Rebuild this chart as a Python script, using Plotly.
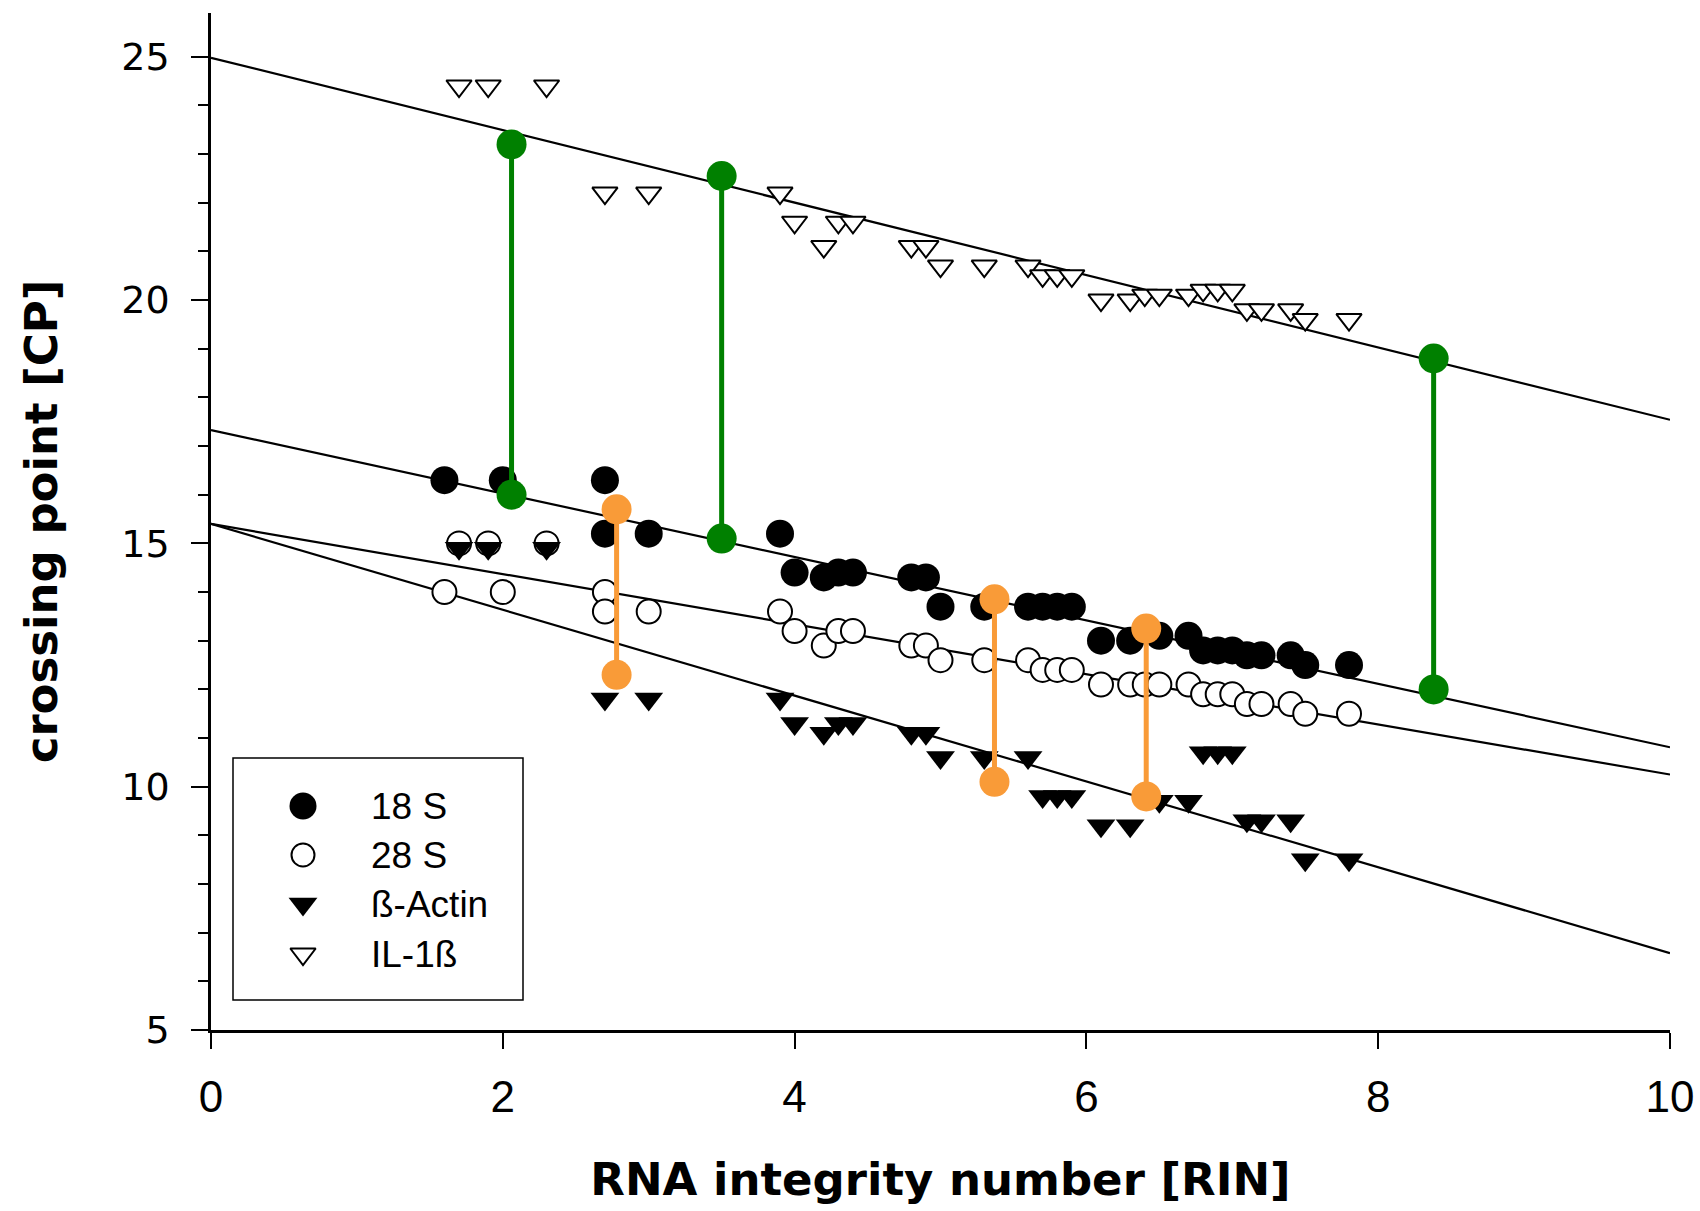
import numpy as np
import plotly.graph_objects as go

# ---------------- data ----------------
series_names = ["18 S", "28 S", "ß-Actin", "IL-1ß"]

rin_18s = [1.6, 2.0, 2.7, 2.7, 3.0, 3.9, 4.0, 4.2, 4.3, 4.4, 4.8, 4.9, 5.0, 5.3, 5.6,
           5.7, 5.8, 5.9, 6.1, 6.3, 6.5, 6.7, 6.8, 6.9, 7.0, 7.1, 7.2, 7.4, 7.5, 7.8]
cp_18s = [16.3, 16.3, 16.3, 15.2, 15.2, 15.2, 14.4, 14.3, 14.4, 14.4, 14.3, 14.3, 13.7, 13.7, 13.7,
          13.7, 13.7, 13.7, 13.0, 13.0, 13.1, 13.1, 12.8, 12.8, 12.8, 12.7, 12.7, 12.7, 12.5, 12.5]

rin_28s = [1.6, 1.7, 1.9, 2.0, 2.3, 2.7, 2.7, 3.0, 3.9, 4.0, 4.2, 4.3, 4.4, 4.8, 4.9, 5.0, 5.3,
           5.6, 5.7, 5.8, 5.9, 6.1, 6.3, 6.4, 6.5, 6.7, 6.8, 6.9, 7.0, 7.1, 7.2, 7.4, 7.5, 7.8]
cp_28s = [14.0, 15.0, 15.0, 14.0, 15.0, 14.0, 13.6, 13.6, 13.6, 13.2, 12.9, 13.2, 13.2, 12.9, 12.9, 12.6, 12.6,
          12.6, 12.4, 12.4, 12.4, 12.1, 12.1, 12.1, 12.1, 12.1, 11.9, 11.9, 11.9, 11.7, 11.7, 11.7, 11.5, 11.5]

rin_actin = [1.7, 1.9, 2.3, 2.7, 3.0, 3.9, 4.0, 4.2, 4.3, 4.4, 4.8, 4.9, 5.0, 5.3, 5.6,
             5.7, 5.8, 5.9, 6.1, 6.3, 6.5, 6.7, 6.8, 6.9, 7.0, 7.1, 7.2, 7.4, 7.5, 7.8]
cp_actin = [14.9, 14.9, 14.9, 11.8, 11.8, 11.8, 11.3, 11.1, 11.3, 11.3, 11.1, 11.1, 10.6, 10.6, 10.6,
            9.8, 9.8, 9.8, 9.2, 9.2, 9.7, 9.7, 10.7, 10.7, 10.7, 9.3, 9.3, 9.3, 8.5, 8.5]

rin_il1b = [1.7, 1.9, 2.3, 2.7, 3.0, 3.9, 4.0, 4.2, 4.3, 4.4, 4.8, 4.9, 5.0, 5.3, 5.6, 5.7,
            5.8, 5.9, 6.1, 6.3, 6.4, 6.5, 6.7, 6.8, 6.9, 7.0, 7.1, 7.2, 7.4, 7.5, 7.8]
cp_il1b = [24.4, 24.4, 24.4, 22.2, 22.2, 22.2, 21.6, 21.1, 21.6, 21.6, 21.1, 21.1, 20.7, 20.7, 20.7, 20.5,
           20.5, 20.5, 20.0, 20.0, 20.1, 20.1, 20.1, 20.2, 20.2, 20.2, 19.8, 19.8, 19.8, 19.6, 19.6]

# regression lines (intercept, slope) per series, same order as series_names
fit_intercepts = [17.33, 15.40, 15.40, 24.98]
fit_slopes = [-0.652, -0.515, -0.882, -0.744]
fit_x = [0, 10]

# highlighted pairs
green_rin = [2.06, 3.50, 8.38]
green_top = [23.2, 22.55, 18.8]
green_bottom = [16.0, 15.1, 12.0]

orange_rin = [2.78, 5.37, 6.41]
orange_top = [15.7, 13.85, 13.25]
orange_bottom = [12.3, 10.1, 9.8]

x_ticks = [0, 2, 4, 6, 8, 10]
y_ticks = [5, 10, 15, 20, 25]

# ---------------- styling ----------------
BLACK = "black"
GREEN = "#008000"
ORANGE = "#F99B38"

styles = [
    dict(symbol="circle", size=28, color=BLACK, line=dict(width=0)),
    dict(symbol="circle", size=24, color="white", line=dict(width=2, color=BLACK)),
    dict(symbol="triangle-down", size=25, color=BLACK, line=dict(width=0)),
    dict(symbol="triangle-down", size=22, color="white", line=dict(width=2, color=BLACK)),
]
xs = [rin_18s, rin_28s, rin_actin, rin_il1b]
ys = [cp_18s, cp_28s, cp_actin, cp_il1b]

fig = go.Figure()

# regression lines
for name, b0, b1 in zip(series_names, fit_intercepts, fit_slopes):
    fx = np.array(fit_x, dtype=float)
    fig.add_trace(go.Scatter(x=fx, y=b0 + b1 * fx, mode="lines",
                             line=dict(color=BLACK, width=2.2), hoverinfo="skip",
                             showlegend=False))

# data points
for name, x, y, st in zip(series_names, xs, ys, styles):
    fig.add_trace(go.Scatter(x=x, y=y, mode="markers", name=name, marker=st,
                             showlegend=False))


def pairs(rin, top, bottom):
    px, py = [], []
    for r, t, b in zip(rin, top, bottom):
        px += [r, r, None]
        py += [b, t, None]
    return px, py


for rin, top, bottom, col in [(green_rin, green_top, green_bottom, GREEN),
                              (orange_rin, orange_top, orange_bottom, ORANGE)]:
    px, py = pairs(rin, top, bottom)
    fig.add_trace(go.Scatter(x=px, y=py, mode="lines+markers",
                             line=dict(color=col, width=5),
                             marker=dict(symbol="circle", size=30, color=col),
                             showlegend=False, connectgaps=False))

# ---------------- manual legend (pixel frame of plot area) ----------------
L, R, T, B = 211, 30, 13, 181
W, H = 1700, 1211
PW, PH = W - L - R, H - T - B

leg_marker_x = 303 - L
leg_text_x = 369 - L
leg_rows = [806 - T, 855 - T, 904 - T, 954 - T]
leg_styles = [
    dict(symbol="circle", size=27, color=BLACK, line=dict(width=0)),
    dict(symbol="circle", size=23, color="white", line=dict(width=2, color=BLACK)),
    dict(symbol="triangle-down", size=25, color=BLACK, line=dict(width=0)),
    dict(symbol="triangle-down", size=22, color="white", line=dict(width=2, color=BLACK)),
]
for name, yy, st in zip(series_names, leg_rows, leg_styles):
    fig.add_trace(go.Scatter(x=[leg_marker_x], y=[yy], mode="markers", marker=st,
                             xaxis="x2", yaxis="y2", showlegend=False, hoverinfo="skip"))
    fig.add_annotation(x=leg_text_x, y=yy, xref="x2", yref="y2", text=name,
                       showarrow=False, xanchor="left", yanchor="middle",
                       font=dict(family="Liberation Sans, Arial", size=37, color=BLACK))

fig.add_shape(type="rect", xref="x2", yref="y2",
              x0=233 - L, x1=523 - L, y0=758 - T, y1=1000 - T,
              line=dict(color=BLACK, width=1.5), fillcolor="rgba(0,0,0,0)", layer="above")

fig.update_layout(
    width=W, height=H,
    margin=dict(l=L, r=R, t=T, b=B, autoexpand=False),
    plot_bgcolor="white", paper_bgcolor="white",
    showlegend=False,
    xaxis=dict(range=[0, 10], tickvals=x_ticks, ticktext=[str(v) for v in x_ticks],
               ticks="outside", ticklen=16, tickwidth=2, tickcolor=BLACK,
               showline=True, linewidth=2.5, linecolor=BLACK, automargin=False,
               showgrid=False, zeroline=False, ticklabelstandoff=10,
               tickfont=dict(family="Liberation Sans Narrow, Arial Narrow, Liberation Sans",
                             size=44, color=BLACK),
               title=dict(text="RNA integrity number [RIN]", standoff=44,
                          font=dict(family="DejaVu Sans", size=45, weight="bold", color=BLACK))),
    yaxis=dict(range=[5, 25.9], tickvals=y_ticks, ticktext=[str(v) for v in y_ticks],
               ticks="outside", ticklen=17, tickwidth=2, tickcolor=BLACK,
               minor=dict(dtick=1, tick0=5, ticks="outside", ticklen=10, tickwidth=2,
                          tickcolor=BLACK, showgrid=False),
               showline=True, linewidth=2.5, linecolor=BLACK, automargin=False,
               showgrid=False, zeroline=False, ticklabelstandoff=14,
               tickfont=dict(family="DejaVu Sans", size=38, color=BLACK),
               title=dict(text="crossing point [CP]", standoff=50,
                          font=dict(family="DejaVu Sans", size=45, weight="bold", color=BLACK))),
    xaxis2=dict(range=[0, PW], overlaying="x", visible=False, fixedrange=True),
    yaxis2=dict(range=[PH, 0], overlaying="y", visible=False, fixedrange=True),
)

fig.write_html("out.html")
